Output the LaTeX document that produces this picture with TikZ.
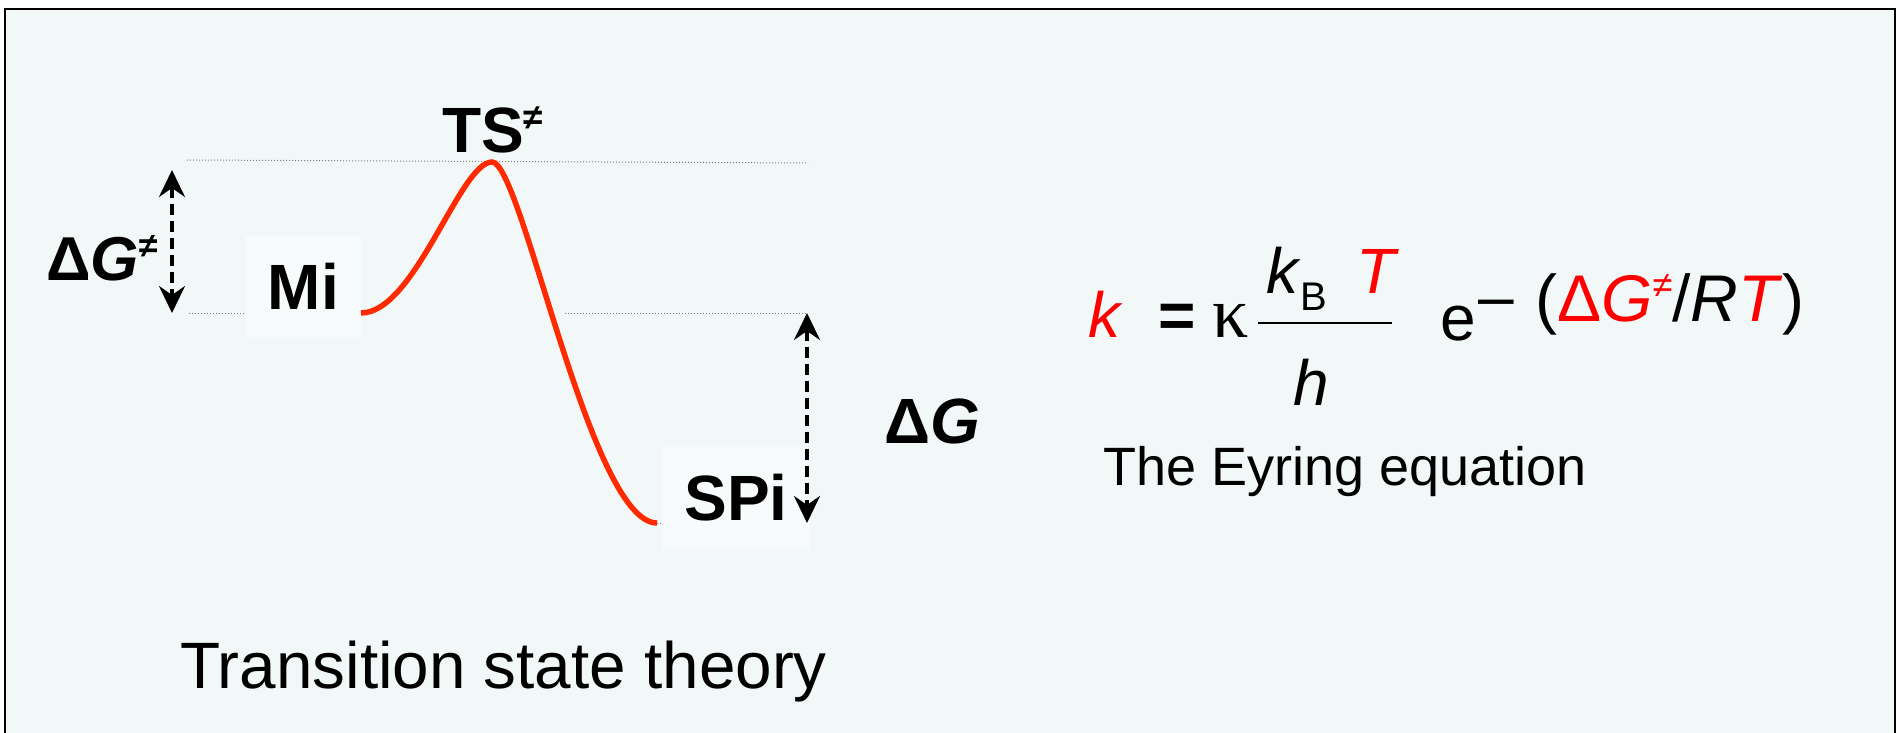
\documentclass[tikz,border=0pt]{standalone}
\usepackage{fontspec}
\setmainfont{Liberation Sans}
\newfontfamily\greekserif{Liberation Serif}
\usetikzlibrary{arrows.meta}
\definecolor{sfondo}{HTML}{F2F8F8}
\definecolor{riquadro}{HTML}{F7FBFB}
\definecolor{curva}{HTML}{FF2A00}
\definecolor{rosso}{HTML}{FF0000}
\newcommand{\fsz}[1]{\fontsize{#1}{#1}\selectfont}
\newcommand{\tsne}{\raisebox{0.36em}{\scalebox{0.55}{≠}}}
\tikzset{
  livello/.style={gray, line width=1pt, dash pattern=on 1pt off 2pt},
  punta/.tip={Stealth[length=27pt,width=26pt,inset=9pt]},
  freccia/.style={line width=3.5pt, dash pattern=on 11pt off 6pt, punta-punta},
  etichetta/.style={font=\fsz{64}\bfseries, inner sep=0pt, anchor=base west},
  testo/.style={inner sep=0pt, anchor=base west},
  riquadro/.style={fill=riquadro, inner sep=0pt, font=\fsz{64}\bfseries},
}
\begin{document}
\begin{tikzpicture}[x=1pt,y=-1pt]
  \useasboundingbox (0,0) rectangle (1899,733);
  \fill[white] (0,0) rectangle (1899,733);
  \fill[sfondo] (5,9) rectangle (1895,740);
  \draw[line width=2.5pt] (5,740) -- (5,9) -- (1895,9) -- (1895,740);

  \coordinate (ts)  at (492,162);
  \coordinate (mi)  at (361,313);
  \coordinate (spi) at (657,523);
  % livelli di energia
  \draw[livello] (187,160) -- (808,163);
  \draw[livello] (189,313) -- (mi);
  \draw[livello] (565,313) -- (808,313);
  \draw[livello] (spi) -- (807,523);

  \node[riquadro, minimum width=115pt, minimum height=101pt] (Mi) at (303.5,286) {Mi};
  \node[riquadro, minimum width=148pt, minimum height=102pt] (SPi) at (736,498) {SPi};

  % profilo di reazione
  \draw[curva, line width=5.5pt] (mi) .. controls (415,313) and (460,162) .. (ts)
    .. controls (522,162) and (590,523) .. (spi);

  \coordinate (a1) at (172,170);
  \coordinate (a2) at (172,313);
  \coordinate (b1) at (807,313);
  \coordinate (b2) at (807,523);
  \draw[freccia] (a1) -- (a2);
  \draw[freccia] (b1) -- (b2);

  \node[etichetta] (TS) at (442,153) {TS\tsne};
  \node[etichetta, font=\fsz{62}\bfseries] (dGts) at (46,280) {Δ\textit{G}\tsne};
  \node[etichetta] (dG) at (884,443) {Δ\textit{G}};

  % equazione di Eyring
  \node[testo, font=\fsz{64}\itshape, text=rosso] (k) at (1088,337) {k};
  \node[testo, font=\fsz{64}\bfseries] (uguale) at (1158,337) {=};
  \node[testo, font=\greekserif\fsz{72}] (kappa) at (1212,337) {κ};
  \coordinate (f1) at (1258,323);
  \coordinate (f2) at (1392,323);
  \draw[line width=1.5pt] (f1) -- (f2);
  \node[testo, font=\fsz{64}\itshape] (kB) at (1266,293) {k};
  \node[testo, font=\fsz{40}] (B) at (1300,310) {B};
  \node[testo, font=\fsz{64}\itshape, text=rosso] (T) at (1356,293) {T};
  \node[testo, font=\fsz{64}\itshape] (h) at (1293,405) {h};
  \node[testo, font=\fsz{64}] (e) at (1440,340) {e};
  \node[testo, font=\fsz{64}] (meno) at (1478,318) {–};
  \node[testo, font=\fsz{66}] (esp) at (1535,321)
    {(\textcolor{rosso}{Δ\textit{G}\tsne}/\textit{R}\textcolor{rosso}{\textit{T}})};
  \node[testo, font=\fsz{54}] (eyring) at (1103,485) {The Eyring equation};

  \node[testo, font=\fsz{65.6}] (tst) at (180,688) {Transition state theory};
\end{tikzpicture}
\end{document}
